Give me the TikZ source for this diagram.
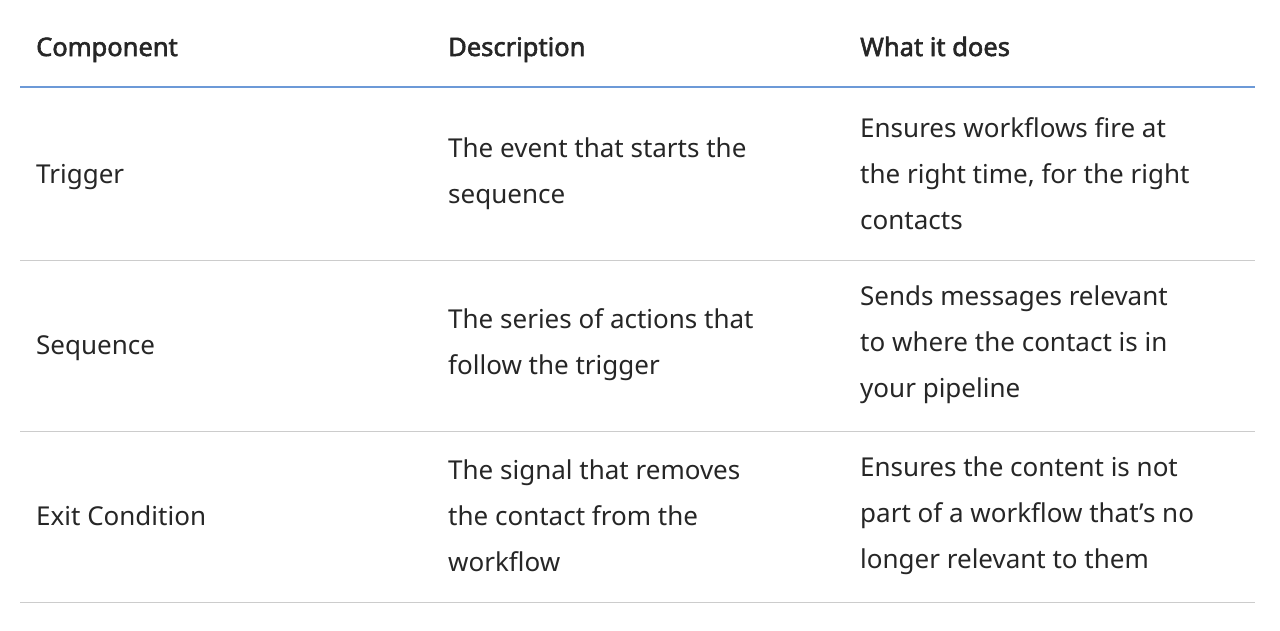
\documentclass[tikz,border=0pt]{standalone}
\usepackage{fontspec}
\setmainfont{Noto Sans}
\newfontfamily\hb{Noto Sans}[FakeBold=2.2]
\begin{document}
\begin{tikzpicture}[x=1pt,y=-1pt,
  cell/.style={anchor=west,align=left,inner sep=0pt,text=black!85,font=\fontsize{26}{46}\selectfont},
  one/.style={anchor=base west,inner sep=0pt,text=black!85,font=\fontsize{26}{46}\selectfont},
  head/.style={anchor=base west,inner sep=0pt,text=black!85,font=\fontsize{25.5}{46}\hb},
  rule/.style={draw=black!20,line width=1pt}]
\useasboundingbox (0,0) rectangle (1280,630);
\node[head] (h1) at (36,56) {Component};
\node[head] (h2) at (448,56) {Description};
\node[head] (h3) at (860,56) {What it does};
\draw[draw=cyan!50!blue!60,line width=2.5pt] (20,87) -- (1255,87);
\node[one] (a1) at (36,183) {Trigger};
\node[cell] (b1) at (448,174) {The event that starts the\\sequence};
\node[cell] (c1) at (860,174) {Ensures workflows fire at\\the right time, for the right\\contacts};
\draw[rule] (20,260) -- (1255,260);
\node[one] (a2) at (36,354) {Sequence};
\node[cell] (b2) at (448,345) {The series of actions that\\follow the trigger};
\node[cell] (c2) at (860,345) {Sends messages relevant\\to where the contact is in\\your pipeline};
\draw[rule] (20,431) -- (1255,431);
\node[one] (a3) at (36,525) {Exit Condition};
\node[cell] (b3) at (448,516) {The signal that removes\\the contact from the\\workflow};
\node[cell] (c3) at (860,516) {Ensures the content is not\\part of a workflow that’s no\\longer relevant to them};
\draw[rule] (20,602) -- (1255,602);
\end{tikzpicture}
\end{document}
